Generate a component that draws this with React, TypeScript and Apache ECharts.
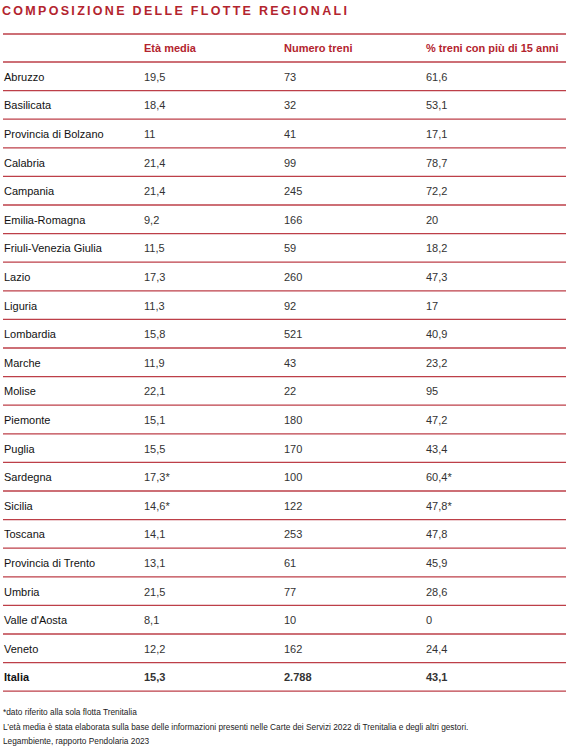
import React, { useEffect, useRef } from "react";
import * as echarts from "echarts";

const TITLE = "COMPOSIZIONE DELLE FLOTTE REGIONALI";
const headers = ["Età media", "Numero treni", "% treni con più di 15 anni"];
const regions = [
  "Abruzzo",
  "Basilicata",
  "Provincia di Bolzano",
  "Calabria",
  "Campania",
  "Emilia-Romagna",
  "Friuli-Venezia Giulia",
  "Lazio",
  "Liguria",
  "Lombardia",
  "Marche",
  "Molise",
  "Piemonte",
  "Puglia",
  "Sardegna",
  "Sicilia",
  "Toscana",
  "Provincia di Trento",
  "Umbria",
  "Valle d'Aosta",
  "Veneto",
  "Italia",
];
const etaMedia = [19.5, 18.4, 11, 21.4, 21.4, 9.2, 11.5, 17.3, 11.3, 15.8, 11.9, 22.1, 15.1, 15.5, 17.3, 14.6, 14.1, 13.1, 21.5, 8.1, 12.2, 15.3];
const numeroTreni = [73, 32, 41, 99, 245, 166, 59, 260, 92, 521, 43, 22, 180, 170, 100, 122, 253, 61, 77, 10, 162, 2788];
const pctOver15 = [61.6, 53.1, 17.1, 78.7, 72.2, 20, 18.2, 47.3, 17, 40.9, 23.2, 95, 47.2, 43.4, 60.4, 47.8, 47.8, 45.9, 28.6, 0, 24.4, 43.1];
const trenitaliaOnly = ["Sardegna", "Sicilia"];
const totalRow = "Italia";
const notes = [
  "*dato riferito alla sola flotta Trenitalia",
  "L’età media è stata elaborata sulla base delle informazioni presenti nelle Carte dei Servizi 2022 di Trenitalia e degli altri gestori.",
  "Legambiente, rapporto Pendolaria 2023",
];

// layout constants
const W = 573;
const H = 747;
const FONT = "'Liberation Sans', Arial, Helvetica, sans-serif";
const RED = "#b3242e";
const LINE = "#bd3f48";
const COL_X = [4, 144, 284, 426];
const LINE_X1 = 3;
const LINE_X2 = 566;
const GRID_TOP = 62;
const GRID_BOTTOM = 55.8;

function fmt(v: number): string {
  const s = String(v);
  const [i, d] = s.split(".");
  const intStr = i.replace(/\B(?=(\d{3})+(?!\d))/g, ".");
  return d ? intStr + "," + d : intStr;
}

export default function App() {
  const ref = useRef<HTMLDivElement>(null);

  useEffect(() => {
    document.body.style.margin = "0";
    const el = ref.current!;
    const chart = echarts.init(el, undefined, { renderer: "svg" });

    const data = regions.map((_, i) => [0, i]);

    const renderItem = (params: any, api: any) => {
      const i = params.dataIndex;
      const c = api.coord([0, i]);
      const h = api.size([0, 1])[1];
      const y = c[1];
      const name = regions[i];
      const isTotal = name === totalRow;
      const star = trenitaliaOnly.includes(name) ? "*" : "";
      const values = [name, fmt(etaMedia[i]) + star, fmt(numeroTreni[i]), fmt(pctOver15[i]) + star];
      const children: any[] = values.map((t, k) => ({
        type: "text",
        x: COL_X[k],
        y: y + 0.5,
        style: {
          text: t,
          fill: k === 0 ? "#111111" : "#333333",
          fontSize: 11,
          fontFamily: FONT,
          fontWeight: isTotal ? "bold" : "normal",
          align: "left",
          verticalAlign: "middle",
        },
      }));
      children.push({
        type: "line",
        shape: { x1: LINE_X1, y1: y + h / 2, x2: LINE_X2, y2: y + h / 2 },
        style: { stroke: LINE, lineWidth: 1.3 },
      });
      if (i === 0) {
        children.push({
          type: "line",
          shape: { x1: LINE_X1, y1: y - h / 2, x2: LINE_X2, y2: y - h / 2 },
          style: { stroke: LINE, lineWidth: 1.3 },
        });
      }
      return { type: "group", children };
    };

    const graphics: any[] = [];
    graphics.push({
      type: "line",
      shape: { x1: LINE_X1, y1: 34, x2: LINE_X2, y2: 34 },
      style: { stroke: LINE, lineWidth: 1.3 },
    });
    headers.forEach((hd, k) => {
      graphics.push({
        type: "text",
        x: COL_X[k + 1],
        y: 48,
        style: {
          text: hd,
          fill: RED,
          fontSize: 11,
          fontWeight: "bold",
          fontFamily: FONT,
          align: "left",
          verticalAlign: "middle",
        },
      });
    });
    notes.forEach((n, k) => {
      graphics.push({
        type: "text",
        x: 3,
        y: 712 + k * 14.7,
        style: {
          text: n,
          fill: "#222222",
          fontSize: 8.3,
          fontFamily: FONT,
          align: "left",
          verticalAlign: "middle",
        },
      });
    });

    chart.setOption({
      animation: false,
      title: {
        text: TITLE,
        left: 2,
        top: 4,
        padding: 0,
        textStyle: { color: RED, fontSize: 12.5, fontWeight: "bold", fontFamily: FONT },
      },
      grid: { left: 0, right: 0, top: GRID_TOP, bottom: GRID_BOTTOM },
      xAxis: { type: "value", min: 0, max: W, show: false },
      yAxis: { type: "category", data: regions, inverse: true, show: false },
      series: [
        {
          type: "custom",
          renderItem,
          data,
          encode: { x: 0, y: 1 },
          clip: false,
          silent: true,
        },
      ],
      graphic: graphics,
    });

    const spaceTitle = () => {
      el.querySelectorAll("text").forEach((t) => {
        if (t.textContent === TITLE) t.setAttribute("letter-spacing", "2.3");
      });
    };
    spaceTitle();
    chart.on("finished", spaceTitle);

    return () => {
      chart.dispose();
    };
  }, []);

  return <div ref={ref} style={{ width: W, height: H }} />;
}
